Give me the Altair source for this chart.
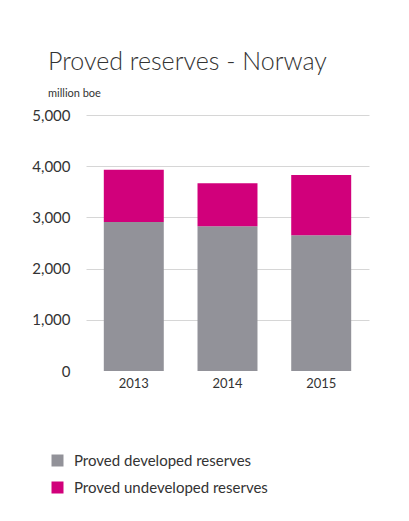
import altair as alt
import pandas as pd

years = ["2013", "2014", "2015"]
developed = [2910, 2826, 2650]
undeveloped = [1023, 841, 1180]
series = ["Proved developed reserves", "Proved undeveloped reserves"]
colors = ["#929299", "#d1007b"]

rows = []
for i, y in enumerate(years):
    rows.append({"year": y, "type": series[0], "value": developed[i], "ord": 0})
    rows.append({"year": y, "type": series[1], "value": undeveloped[i], "ord": 1})
df = pd.DataFrame(rows)

font = "Lato"

chart = (
    alt.Chart(df)
    .mark_bar()
    .encode(
        x=alt.X(
            "year:N",
            title=None,
            scale=alt.Scale(paddingInner=0.36, paddingOuter=0.19),
            axis=alt.Axis(
                labelAngle=0, domain=False, ticks=False, labelPadding=6,
                labelFontSize=13, labelColor="#333333", labelFont=font,
            ),
        ),
        y=alt.Y(
            "value:Q",
            title=None,
            stack="zero",
            scale=alt.Scale(domain=[0, 5000]),
            axis=alt.Axis(
                values=[0, 1000, 2000, 3000, 4000, 5000], format=",.0f",
                domain=False, ticks=False, labelPadding=16,
                labelFontSize=15, labelColor="#333333", labelFont=font,
                gridColor="#d6d6d6",
                gridOpacity={"condition": {"test": "datum.value === 0", "value": 0}, "value": 1},
            ),
        ),
        color=alt.Color(
            "type:N",
            scale=alt.Scale(domain=series, range=colors),
            legend=alt.Legend(
                title=None, orient="none", legendX=-36, legendY=338,
                symbolType="square", symbolSize=144, symbolStrokeWidth=0,
                symbolOpacity=1, labelFontSize=15, labelColor="#333333",
                labelFont=font, rowPadding=11, labelOffset=9, labelLimit=320,
            ),
        ),
        order=alt.Order("ord:Q", sort="ascending"),
    )
    .properties(
        width=283,
        height=256,
        autosize=alt.AutoSizeParams(type="none"),
        padding={"left": 78, "top": 107, "right": 30, "bottom": 140},
        title=alt.TitleParams(
            "Proved reserves - Norway",
            subtitle="million boe",
            anchor="start",
            frame="group",
            dx=-38,
            offset=9,
            font=font,
            fontSize=25,
            fontWeight=300,
            color="#333333",
            subtitleFont=font,
            subtitleFontSize=11,
            subtitleColor="#333333",
            subtitlePadding=13,
        ),
    )
    .configure_view(stroke=None)
)

chart.save("out.html", embed_options={"renderer": "svg", "actions": False})
